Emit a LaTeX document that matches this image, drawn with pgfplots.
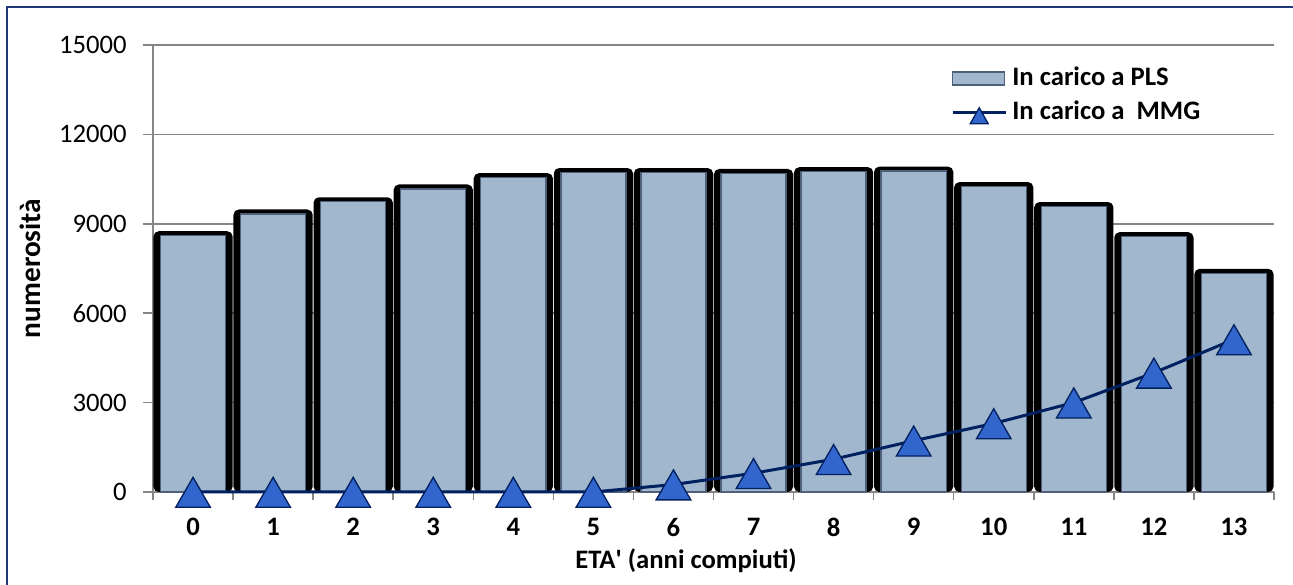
\documentclass[border=0pt]{standalone}
\usepackage{fontspec}
\setmainfont{Carlito}
\usepackage{pgfplots}
\usepackage{pgfplotstable}
\pgfplotsset{compat=1.18}

\definecolor{barface}{RGB}{161,183,206}
\definecolor{baredge}{RGB}{80,96,122}
\definecolor{navyline}{RGB}{0,32,96}
\definecolor{markfill}{RGB}{51,102,204}
\definecolor{gridgray}{RGB}{134,134,134}
\definecolor{framenavy}{RGB}{31,56,120}

% eta, in carico a PLS, in carico a MMG
\pgfplotstableread{
age pls mmg
0 8600 0
1 9330 0
2 9740 0
3 10170 0
4 10550 0
5 10720 0
6 10720 250
7 10690 630
8 10750 1100
9 10770 1720
10 10250 2300
11 9580 3000
12 8570 4000
13 7340 5120
}\datatable

\begin{document}
\begin{tikzpicture}
\useasboundingbox (0,0) rectangle (969.75pt,438.75pt);
\draw[framenavy, line width=1.5pt] (5.25pt,0) -- (5.25pt,433.5pt) -- (969.75pt,433.5pt);
\begin{axis}[
    at={(114.75pt,69.75pt)}, anchor=south west,
    scale only axis, width=840.75pt, height=335.25pt,
    xmin=-0.5, xmax=13.5, ymin=0, ymax=15000,
    clip=false,
    axis lines*=left,
    axis line style={gridgray, line width=1.1pt},
    xtick={0,...,13},
    xticklabels={0,1,2,3,4,5,6,7,8,9,10,11,12,13},
    minor xtick={-0.5,0.5,...,13.5},
    major x tick style={draw=none},
    minor x tick style={gridgray, line width=1.1pt},
    ytick={0,3000,...,15000},
    yticklabels={0,3000,6000,9000,12000,15000},
    scaled y ticks=false,
    major y tick style={gridgray, line width=1.1pt},
    tick align=outside,
    major tick length=7.5pt, minor tick length=6pt,
    ymajorgrids, grid style={gridgray, line width=1.1pt},
    xticklabel style={font=\fontsize{20}{23}\selectfont\bfseries, anchor=center, yshift=-18.75pt},
    yticklabel style={font=\fontsize{20}{23}\selectfont, anchor=east, inner sep=0pt, xshift=-12pt},
    xlabel={ETA\textquotesingle{} (anni compiuti)},
    xlabel style={font=\fontsize{20}{23}\selectfont\bfseries, at={(axis description cs:0.4755,-0.172)}, anchor=base},
    ylabel={numerosità},
    ylabel style={font=\fontsize{22}{25}\selectfont\bfseries, at={(axis description cs:-0.1097,0.5)}, anchor=center},
    legend cell align=left,
    legend style={at={(0.7119,0.949)}, anchor=north west, draw=none, fill=none,
        inner sep=0pt, outer sep=0pt, row sep=9.5pt, font=\fontsize{20}{23}\selectfont\bfseries,
        nodes={inner sep=0pt, text height=13pt, text depth=3pt},
        /tikz/every odd column/.append style={column sep=3.75pt}},
]
\addplot[ybar, bar width=0.99, bar shift=0pt, fill=black, draw=none,
    rounded corners=4pt, forget plot]
    table[x=age, y expr=\thisrow{pls}+150] {\datatable};
\addplot[ybar, bar width=0.8125, bar shift=0pt, fill=barface, draw=baredge,
    line width=1pt,
    legend image code/.code={
        \draw[fill=barface, draw=baredge, line width=1pt] (0pt,-4.9pt) rectangle (39pt,4.9pt);}]
    table[x=age, y=pls] {\datatable};
\addlegendentry{In carico a PLS}
\addplot[navyline, line width=2.25pt, mark=triangle*, mark size=15pt,
    mark options={solid, fill=markfill, draw=navyline, line width=1pt, yshift=-4pt},
    legend image code/.code={
        \draw[navyline, line width=2.25pt] (0pt,0pt) -- (40pt,0pt);
        \filldraw[fill=markfill, draw=navyline, line width=1pt]
            (13.25pt,-8.5pt) -- (26.75pt,-8.5pt) -- (20pt,3.5pt) -- cycle;}]
    table[x=age, y=mmg] {\datatable};
\addlegendentry{In carico a\ \ MMG}
\end{axis}
\end{tikzpicture}
\end{document}
